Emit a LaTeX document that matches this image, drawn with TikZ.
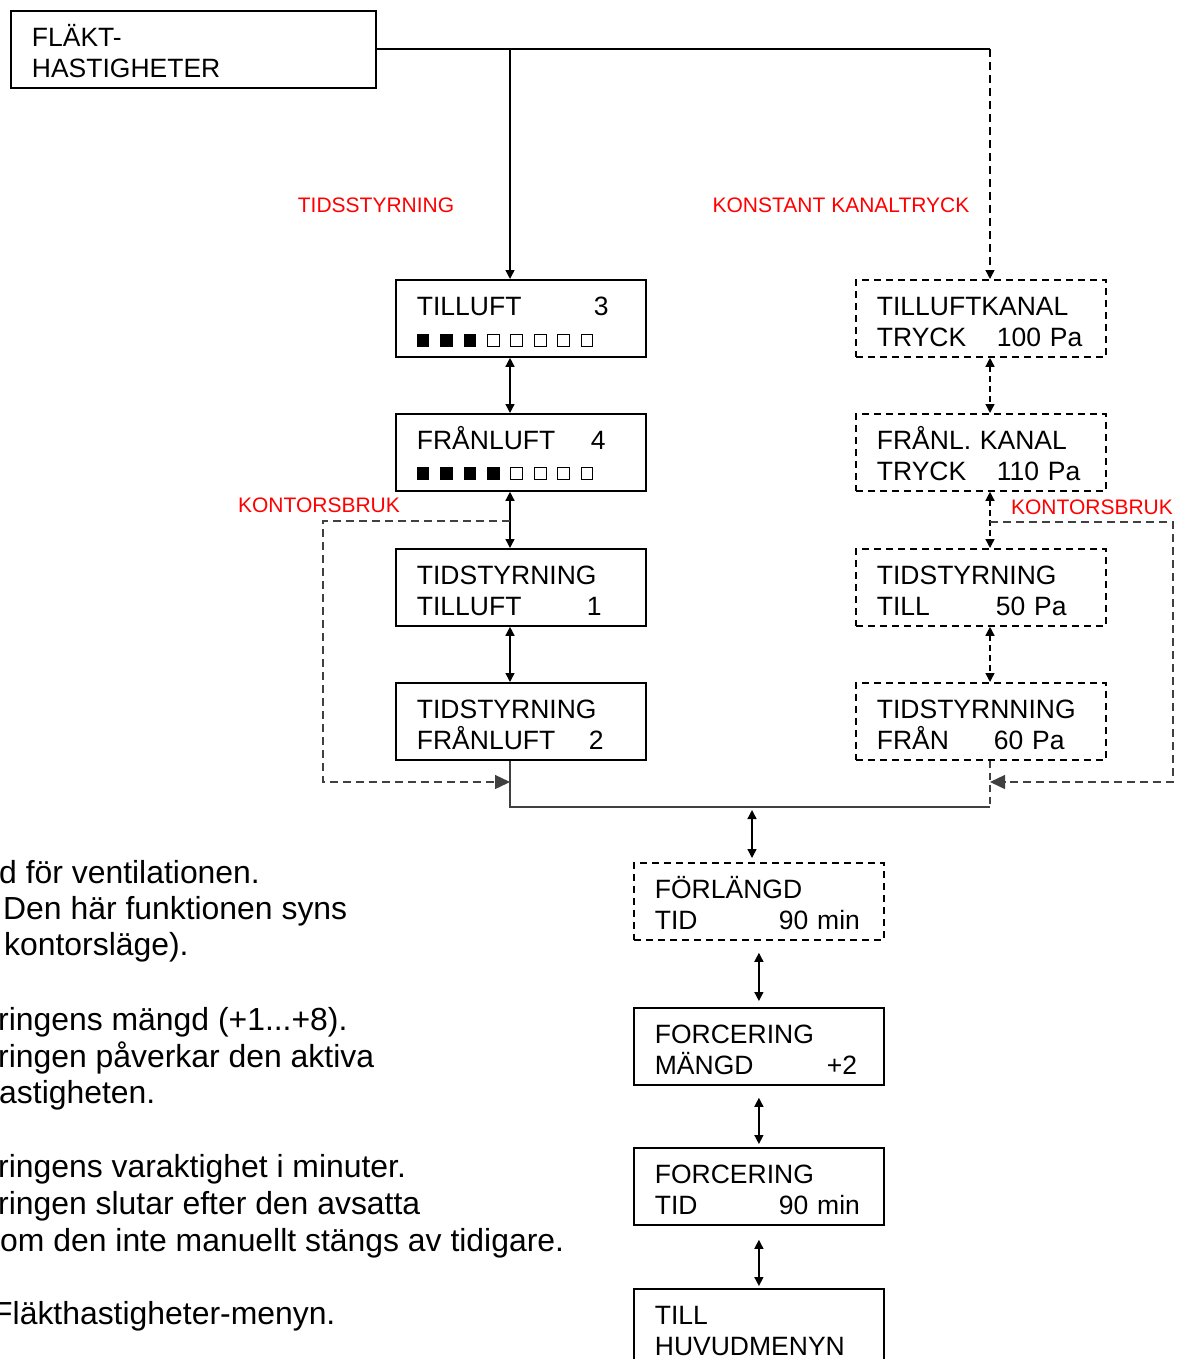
\documentclass[tikz,border=0pt]{standalone}
\usepackage{fontspec}
\setmainfont{Liberation Sans}
\usetikzlibrary{arrows.meta}
\usetikzlibrary{positioning}

\newcommand{\lcdfont}{\fontsize{26.5}{31}\selectfont}
\newcommand{\redfont}{\fontsize{21}{25}\selectfont}
\newcommand{\notefont}{\fontsize{31.9}{37}\selectfont}

\tikzset{
  menu/.style={draw, line width=1.8pt, anchor=north west, inner xsep=21pt, inner ysep=0pt,
    text width=208pt, minimum height=77pt, text height=31pt, text depth=37pt,
    align=left, font=\lcdfont},
  dbox/.style={menu, dash pattern=on 7pt off 5pt},
  conn/.style={line width=1.4pt},
  dbl/.style={line width=1.4pt, {Triangle[length=9pt,width=9pt]}-{Triangle[length=9pt,width=9pt]}},
  office/.style={line width=1.4pt, black!75, dash pattern=on 8pt off 5pt, -{Triangle[length=15pt,width=14pt]}},
  redlbl/.style={text=red, font=\redfont, inner sep=0pt},
  note/.style={font=\notefont, anchor=base west, inner sep=0pt},
}

\begin{document}
\begin{tikzpicture}[x=1pt,y=-1pt]
\useasboundingbox (0,0) rectangle (1176,1359);

% menu boxes
\node[menu, text width=323pt] (fan) at (10,10) {FLÄKT-\\HASTIGHETER};

\node[menu] (tl) at (395,279) {\makebox[177pt][l]{TILLUFT}3};
\node[menu] (fl) at (395,413) {\makebox[174pt][l]{FRÅNLUFT}4};
\node[menu] (tst) at (395,548) {TIDSTYRNING\\\makebox[170pt][l]{TILLUFT}1};
\node[menu] (tsf) at (395,682) {TIDSTYRNING\\\makebox[172pt][l]{FRÅNLUFT}2};

\node[dbox] (tk) at (855,279) {TILLUFTKANAL\\\makebox[120pt][l]{TRYCK}100 Pa};
\node[dbox] (fk) at (855,413) {FRÅNL. KANAL\\\makebox[120pt][l]{TRYCK}110 Pa};
\node[dbox] (tpt) at (855,548) {TIDSTYRNING\\\makebox[119pt][l]{TILL}50 Pa};
\node[dbox] (tpf) at (855,682) {TIDSTYRNNING\\\makebox[117pt][l]{FRÅN}60 Pa};

\node[dbox] (ft) at (633,862) {FÖRLÄNGD\\\makebox[124pt][l]{TID}90 min};
\node[menu] (fm) at (633,1007) {FORCERING\\\makebox[172pt][l]{MÄNGD}+2};
\node[menu] (fti) at (633,1147) {FORCERING\\\makebox[124pt][l]{TID}90 min};
\node[menu] (hm) at (633,1288) {TILL\\HUVUDMENYN};

% speed bars
\foreach \i [evaluate=\i as \x using 21.7+23.4*\i] in {0,1,2}
  \fill ([shift={(\x,55)}]tl.north west) rectangle ++(12.6,12.6);
\foreach \i [evaluate=\i as \x using 21.7+23.4*\i] in {3,...,7}
  \draw[line width=0.8pt] ([shift={(\x+0.4,55.4)}]tl.north west) rectangle ++(11.8,11.8);
\foreach \i [evaluate=\i as \x using 21.7+23.4*\i] in {0,...,3}
  \fill ([shift={(\x,54)}]fl.north west) rectangle ++(12.6,12.6);
\foreach \i [evaluate=\i as \x using 21.7+23.4*\i] in {4,...,7}
  \draw[line width=0.8pt] ([shift={(\x+0.4,54.4)}]fl.north west) rectangle ++(11.8,11.8);

% branch from the top
\coordinate (lx) at (510,0);
\coordinate (rx) at (990,0);
\draw[line width=1.8pt] (fan.east) -- (fan.east -| rx);
\draw[conn,-{Triangle[length=9pt,width=9pt]}] (fan.east -| lx) -- (lx |- tl.north);
\draw[conn,dash pattern=on 8pt off 5pt,-{Triangle[length=9pt,width=9pt]}] (fan.east -| rx) -- (rx |- tk.north);

\node[redlbl] (tsl) at (376,205) {TIDSSTYRNING};
\node[redlbl] (kkl) at (841,205) {KONSTANT KANALTRYCK};

% columns
\draw[dbl] (lx |- tl.south) -- (lx |- fl.north);
\draw[dbl] (lx |- fl.south) -- (lx |- tst.north);
\draw[dbl] (lx |- tst.south) -- (lx |- tsf.north);
\draw[dbl,dash pattern=on 6pt off 4pt] (rx |- tk.south) -- (rx |- fk.north);
\draw[dbl,dash pattern=on 6pt off 4pt] (rx |- fk.south) -- (rx |- tpt.north);
\draw[dbl,dash pattern=on 6pt off 4pt] (rx |- tpt.south) -- (rx |- tpf.north);

% office use bypass
\node[redlbl] (kbl) at (319,505) {KONTORSBRUK};
\node[redlbl] (kbr) at (1092,507) {KONTORSBRUK};
\coordinate (kl) at (510,521);
\coordinate (kla) at (510,782);
\coordinate (kr) at (990,522);
\coordinate (kra) at (990,782);
\draw[office] (kl) -- (323,521) -- (323,782) -- (kla);
\draw[office] (kr) -- (1173,522) -- (1173,782) -- (kra);

% merge
\coordinate (ml) at (510,807);
\coordinate (mr) at (990,807);
\coordinate (mc) at (752,807);
\draw[conn,black!75] (lx |- tsf.south) -- (ml) -- (mr);
\draw[conn,black!75,dash pattern=on 7pt off 5pt] (rx |- tpf.south) -- (mr);
\draw[dbl,shorten <=3pt,shorten >=4pt] (mc) -- (mc |- ft.north);
\draw[dbl,shorten <=12pt,shorten >=6pt] (ft.south) -- (fm.north);
\draw[dbl,shorten <=12pt,shorten >=3pt] (fm.south) -- (fti.north);
\draw[dbl,shorten <=14pt,shorten >=2pt] (fti.south) -- (hm.north);

% notes
\node[note] (n1) at (-1,883) {d för ventilationen.};
\node[note] (n2) at (3,919) {Den här funktionen syns};
\node[note] (n3) at (4,955) {kontorsläge).};
\node[note] (n4) at (-2,1030) {ringens mängd (+1...+8).};
\node[note] (n5) at (-2,1067) {ringen påverkar den aktiva};
\node[note] (n6) at (-1,1103) {astigheten.};
\node[note] (n7) at (-2,1177) {ringens varaktighet i minuter.};
\node[note] (n8) at (-2,1214) {ringen slutar efter den avsatta};
\node[note] (n9) at (0,1251) {om den inte manuellt stängs av tidigare.};
\node[note] (n10) at (-7,1324) {Fläkthastigheter-menyn.};

\end{tikzpicture}
\end{document}
